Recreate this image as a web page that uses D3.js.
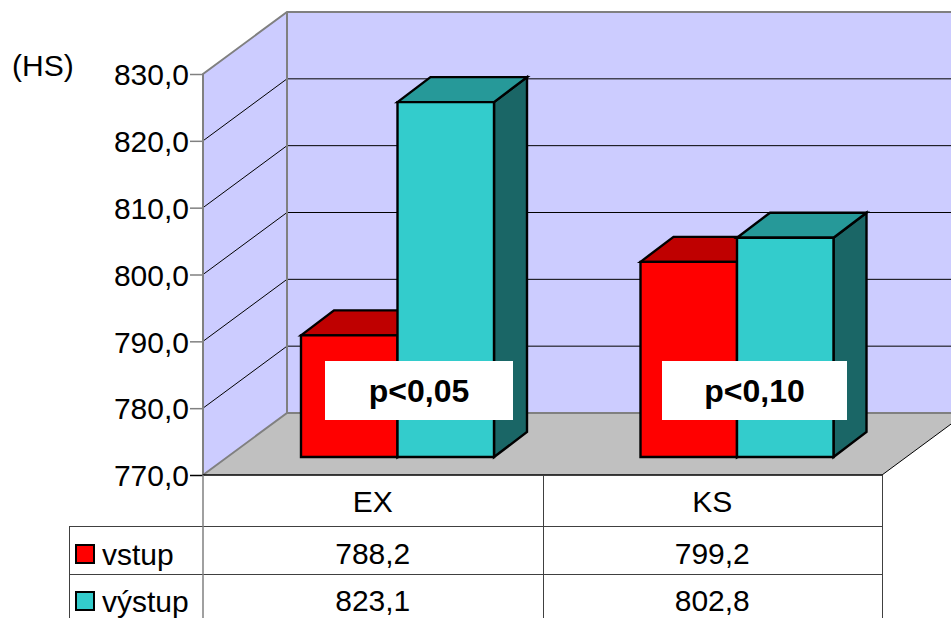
<!DOCTYPE html>
<html>
<head>
<meta charset="utf-8">
<script src="https://cdn.jsdelivr.net/npm/d3@7"></script>
<style>
html,body{margin:0;padding:0;background:#fff;overflow:hidden}
svg{display:block}
text{font-family:"Liberation Sans",Arial,sans-serif;fill:#000}
</style>
</head>
<body>
<svg id="chart" width="951" height="618"></svg>
<script>
const categories = ["EX", "KS"];
const seriesNames = ["vstup", "výstup"];
const vstup = [788.2, 799.2];
const vystup = [823.1, 802.8];
const yTicks = [770, 780, 790, 800, 810, 820, 830];
const pLabels = ["p<0,05", "p<0,10"];
const unitLabel = "(HS)";

const W = 951, H = 618;
const comma = v => v.toFixed(1).replace(".", ",");
const svg = d3.select("#chart");

// Plot frame and the oblique projection used for the walls and the bars
const plotLeft = 203, plotRight = 882, plotBottom = 475, plotTop = 74;
const depth = {dx: 84, dy: -62};
const barDepth = {dx: 33, dy: -25};
const barFloorY = 457;

const y = d3.scaleLinear().domain([770, 830]).range([plotBottom, plotTop]);
const yBar = d3.scaleLinear().domain([770, 830]).range([barFloorY, barFloorY - (plotBottom - plotTop)]);
const xCat = d3.scaleBand().domain(categories).range([plotLeft, plotRight]);
const xSeries = d3.scaleBand().domain(seriesNames).range([98, 291]);

const poly = pts => pts.map(p => p.join(",")).join(" ");
const scene = svg.append("g");

// Walls and floor
scene.append("polygon")
  .attr("points", poly([[plotLeft + depth.dx, y(830) + depth.dy], [plotRight + depth.dx, y(830) + depth.dy],
                        [plotRight + depth.dx, plotBottom + depth.dy], [plotLeft + depth.dx, plotBottom + depth.dy]]))
  .attr("fill", "#CCCCFF");
scene.append("polygon")
  .attr("points", poly([[plotLeft, plotTop], [plotLeft + depth.dx, plotTop + depth.dy],
                        [plotLeft + depth.dx, plotBottom + depth.dy], [plotLeft, plotBottom]]))
  .attr("fill", "#CCCCFF");
scene.append("polygon")
  .attr("points", poly([[plotLeft, plotBottom], [plotLeft + depth.dx, plotBottom + depth.dy],
                        [plotRight + depth.dx, plotBottom + depth.dy], [plotRight, plotBottom]]))
  .attr("fill", "#C0C0C0");

// Gridlines run along the side wall and across the back wall
yTicks.slice(1, -1).forEach(t => {
  scene.append("polyline")
    .attr("points", poly([[plotLeft, y(t)], [plotLeft + depth.dx, y(t) + depth.dy], [W + 20, y(t) + depth.dy]]))
    .attr("fill", "none").attr("stroke", "#000").attr("stroke-width", 1);
});

// Wall edges
const edge = "#808080";
scene.append("polyline")
  .attr("points", poly([[plotLeft, plotBottom], [plotLeft, plotTop], [plotLeft + depth.dx, plotTop + depth.dy], [W + 20, plotTop + depth.dy]]))
  .attr("fill", "none").attr("stroke", edge).attr("stroke-width", 2);
scene.append("polyline")
  .attr("points", poly([[plotLeft + depth.dx, plotTop + depth.dy], [plotLeft + depth.dx, plotBottom + depth.dy]]))
  .attr("fill", "none").attr("stroke", edge).attr("stroke-width", 2);
scene.append("polyline")
  .attr("points", poly([[plotLeft, plotBottom], [plotLeft + depth.dx, plotBottom + depth.dy], [W + 20, plotBottom + depth.dy]]))
  .attr("fill", "none").attr("stroke", edge).attr("stroke-width", 2);
scene.append("line")
  .attr("x1", plotRight).attr("y1", plotBottom).attr("x2", plotRight + depth.dx).attr("y2", plotBottom + depth.dy)
  .attr("stroke", "#000").attr("stroke-width", 1);

// Value axis
const axis = d3.axisLeft(y).tickValues(yTicks).tickFormat(comma).tickSize(13).tickPadding(1);
const axisG = svg.append("g").attr("transform", `translate(${plotLeft},0)`).call(axis);
axisG.select(".domain").remove();
axisG.selectAll(".tick line").attr("stroke", d => d === 770 ? "#000" : edge).attr("stroke-width", 1.5);
axisG.selectAll(".tick text")
  .attr("font-size", 30).attr("fill", "#000").attr("dy", "0.36em")
  .style("font-family", '"Liberation Sans",Arial,sans-serif');

svg.append("text").attr("x", 12).attr("y", 76).attr("font-size", 30).text(unitLabel);

// Bars: front, top and side faces of each box
const barStyles = [
  {front: "#FF0000", lid: "#BF0000", side: "#800000", values: vstup},
  {front: "#33CCCC", lid: "#269999", side: "#1A6666", values: vystup}
];
categories.forEach((cat, ci) => {
  barStyles.forEach((st, si) => {
    const name = seriesNames[si];
    const x0 = xCat(cat) + xSeries(name);
    const x1 = x0 + xSeries.bandwidth();
    const yT = yBar(st.values[ci]);
    const {dx, dy} = barDepth;
    const g = scene.append("g").attr("stroke", "#000").attr("stroke-width", 2.4).attr("stroke-linejoin", "miter");
    g.append("polygon").attr("fill", st.side)
      .attr("points", poly([[x1, yT], [x1 + dx, yT + dy], [x1 + dx, barFloorY + dy], [x1, barFloorY]]));
    g.append("polygon").attr("fill", st.lid)
      .attr("points", poly([[x0, yT], [x0 + dx, yT + dy], [x1 + dx, yT + dy], [x1, yT]]));
    g.append("polygon").attr("fill", st.front)
      .attr("points", poly([[x0, yT], [x1, yT], [x1, barFloorY], [x0, barFloorY]]));
  });
});

// Significance labels on white boxes
const pBoxes = [{x: 325, w: 188}, {x: 662, w: 185}];
pLabels.forEach((label, i) => {
  svg.append("rect").attr("x", pBoxes[i].x).attr("y", 361).attr("width", pBoxes[i].w).attr("height", 59).attr("fill", "#fff");
  svg.append("text").attr("x", pBoxes[i].x + pBoxes[i].w / 2).attr("y", 402)
    .attr("text-anchor", "middle").attr("font-size", 32).attr("font-weight", "bold").text(label);
});

// Data table below the plot
const rowY = [527, 575];
const tableLeft = 69;
const tableLine = "#404040";
svg.append("line").attr("x1", plotLeft).attr("x2", plotRight).attr("y1", plotBottom).attr("y2", plotBottom)
  .attr("stroke", "#000").attr("stroke-width", 1.5);
rowY.forEach(ry => {
  svg.append("line").attr("x1", tableLeft).attr("x2", plotRight).attr("y1", ry - 0.5).attr("y2", ry - 0.5)
    .attr("stroke", tableLine).attr("stroke-width", 1);
});
svg.append("line").attr("x1", plotLeft).attr("x2", plotLeft).attr("y1", plotBottom).attr("y2", H)
  .attr("stroke", edge).attr("stroke-width", 1.5);
[[tableLeft, 527], [xCat("KS"), plotBottom], [plotRight, plotBottom]].forEach(([x, y0]) => {
  svg.append("line").attr("x1", Math.round(x) + 0.5).attr("x2", Math.round(x) + 0.5).attr("y1", y0).attr("y2", H)
    .attr("stroke", tableLine).attr("stroke-width", 1);
});
categories.forEach(cat => {
  svg.append("text").attr("x", xCat(cat) + xCat.bandwidth() / 2).attr("y", 512)
    .attr("text-anchor", "middle").attr("font-size", 30).text(cat);
});
const swatchY = [545, 592];
const legendBase = [565, 611.5];
const valueBase = [564, 611];
barStyles.forEach((st, si) => {
  svg.append("rect").attr("x", 76).attr("y", swatchY[si]).attr("width", 18).attr("height", 18)
    .attr("fill", st.front).attr("stroke", "#000").attr("stroke-width", 2);
  svg.append("text").attr("x", 102).attr("y", legendBase[si]).attr("font-size", 30).text(seriesNames[si]);
  categories.forEach((cat, ci) => {
    svg.append("text").attr("x", xCat(cat) + xCat.bandwidth() / 2).attr("y", valueBase[si])
      .attr("text-anchor", "middle").attr("font-size", 30).text(comma(st.values[ci]));
  });
});
</script>
</body>
</html>
